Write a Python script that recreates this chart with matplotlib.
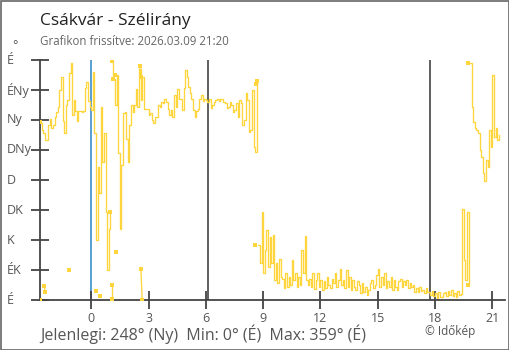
import numpy as np
import matplotlib
matplotlib.use("Agg")
import matplotlib.pyplot as plt
from matplotlib.patches import Rectangle

plt.rcParams['font.family'] = ['Open Sans', 'DejaVu Sans']

# wind direction readings, one every 5 minutes from 21:20 the day before
start_h = -2 - 40 / 60
step_h = 1 / 12
wind_deg = [
    265, 255, 250, 240, 240, 262, 272, 258, 262, 275,
    282, 290, 315, 335, 268, 250, 292, 300, 340, 355,
    278, 300, 284, 268, 283, 283, 282, 283, 318, 327,
    298, 290, 285, 342, 250, 90, 200, 160, 290, 207,
    250, 132, 45, 107, 132, 358, 332, 292, 337, 220,
    107, 202, 280, 282, 242, 207, 262, 292, 282, 292,
    317, 290, 347, 300, 334, 287, 287, 287, 277, 280,
    270, 265, 275, 275, 292, 290, 297, 295, 302, 297,
    287, 277, 285, 275, 307, 290, 317, 302, 302, 285,
    318, 345, 335, 320, 310, 302, 285, 275, 283, 287,
    302, 307, 298, 302, 300, 297, 302, 288, 292, 297,
    300, 302, 298, 302, 301, 297, 296, 288, 290, 297,
    292, 282, 285, 295, 275, 300, 295, 262, 270, 310,
    300, 252, 255, 315, 230, 222, 328, 82, 55, 132,
    40, 75, 105, 50, 95, 55, 97, 30, 55, 25,
    62, 35, 32, 18, 40, 20, 35, 22, 60, 30,
    40, 20, 35, 22, 75, 40, 96, 30, 22, 32,
    20, 40, 17, 30, 40, 20, 30, 15, 28, 18,
    35, 22, 18, 32, 25, 40, 20, 30, 47, 22,
    30, 18, 45, 20, 35, 15, 30, 20, 15, 28,
    22, 10, 25, 12, 20, 8, 15, 25, 30, 18,
    22, 38, 47, 20, 35, 22, 40, 18, 28, 20,
    35, 15, 30, 20, 15, 28, 32, 20, 28, 22,
    30, 18, 26, 20, 22, 12, 18, 12, 20, 14,
    15, 10, 18, 12, 12, 8, 14, 6, 10, 2,
    12, 5, 4, 10, 12, 6, 14, 7, 15, 6,
    10, 5, 13, 8, 9, 137, 60, 30, 132, 23,
    355, 290, 267, 258, 255, 250, 225, 215, 190, 178,
    210, 200, 255, 230, 337, 245, 258, 240, 248,
]

# single readings drawn as small squares
spot_h = [-2.68, -2.66, -2.46, -2.41, -1.15, 0.26, 0.46, 0.98, 1.07, 1.10,
          1.10, 1.15, 1.27, 1.31, 2.54, 2.60, 2.60, 2.67, 8.60, 8.62,
          8.70, 19.74, 19.74]
spot_deg = [0, 267, 21, 12, 45, 14, 6, 132, 358, 22,
            2, 332, 337, 72, 351, 334, 47, 0, 82, 324,
            328, 23, 355]

dir_names = ['É', 'ÉK', 'K', 'DK', 'D', 'DNy', 'Ny', 'ÉNy', 'É']
hour_ticks = [0, 3, 6, 9, 12, 15, 18, 21]
sunrise_h = 6.13
sunset_h = 17.75

current_deg = 248
min_deg = 0
max_deg = 359

yellow = '#ffd53d'
grey = '#444444'


def pieces(h, d, max_gap=None):
    out = []
    cur = [0]
    for k in range(1, len(d)):
        brk = abs(d[k] - d[k - 1]) > 180
        if max_gap is not None and h[k] - h[k - 1] > max_gap:
            brk = True
        if brk:
            out.append(cur)
            cur = [k]
        else:
            cur.append(k)
    out.append(cur)
    return out


fig = plt.figure(figsize=(5.10, 3.50), dpi=100)
ax = fig.add_axes([40 / 510, 50 / 350, 465 / 510, 240 / 350])

hours = start_h + step_h * np.arange(len(wind_deg))
deg = np.array(wind_deg)
for p in pieces(hours, deg):
    if len(p) == 1:
        ax.plot(hours[p], deg[p], 's', color=yellow, ms=3, mew=0)
    else:
        ax.step(hours[p], deg[p], where='post', color=yellow, lw=0.95)

sh = np.array(spot_h)
sd = np.array(spot_deg)
for p in pieces(sh, sd, max_gap=0.09):
    ax.plot(sh[p], sd[p], color=yellow, lw=0.95)
ax.plot(sh, sd, 's', color=yellow, ms=3, mew=0, zorder=3)

ax.axvline(0, color='#3d8ec9', lw=1.2, zorder=1)
ax.axvline(sunrise_h, color=grey, lw=1.2, zorder=1)
ax.axvline(sunset_h, color=grey, lw=1.2, zorder=1)

ax.set_xlim(-2.68, 21.66)
ax.set_ylim(0, 360)
for s in ['top', 'right']:
    ax.spines[s].set_visible(False)
for s in ['left', 'bottom']:
    ax.spines[s].set_color(grey)
    ax.spines[s].set_linewidth(1.3)

ax.set_yticks(np.arange(0, 361, 45))
ax.set_yticklabels([])
ax.tick_params(axis='y', direction='inout', length=13, width=1.3, color=grey)
for v, name in zip(np.arange(0, 361, 45), dir_names):
    ax.text(-0.071, v, name, transform=ax.get_yaxis_transform(),
            ha='left', va='center', fontsize=9, color='#555555')
fig.text(12 / 510, 1 - 46 / 350, '°', fontsize=9, color='#555555',
         ha='left', va='center')

ax.set_xticks(hour_ticks)
ax.set_xticklabels([str(t) for t in hour_ticks])
ax.tick_params(axis='x', direction='inout', length=13, width=1.3, color=grey,
               labelsize=9, labelcolor='#555555', pad=2)

fig.text(40 / 510, 1 - 25 / 350, 'Csákvár - Szélirány', fontsize=12.5,
         color='#222222', ha='left', va='baseline')
fig.text(40 / 510, 1 - 45 / 350, 'Grafikon frissítve: 2026.03.09 21:20',
         fontsize=8.3, color='#666666', ha='left', va='baseline')
fig.text(40 / 510, 1 - 340 / 350,
         'Jelenlegi: %d° (Ny)  Min: %d° (É)  Max: %d° (É)' % (current_deg, min_deg, max_deg),
         fontsize=11.5, color='#555555', ha='left', va='baseline')
fig.text(425 / 510, 1 - 335 / 350, '© Időkép', fontsize=8.5,
         color='#555555', ha='left', va='baseline')

fig.patches.append(Rectangle((0.001, 0.001), 0.997, 0.997, transform=fig.transFigure,
                             fill=False, edgecolor='#666666', lw=1.2))

fig.savefig('out.png', dpi=100)
